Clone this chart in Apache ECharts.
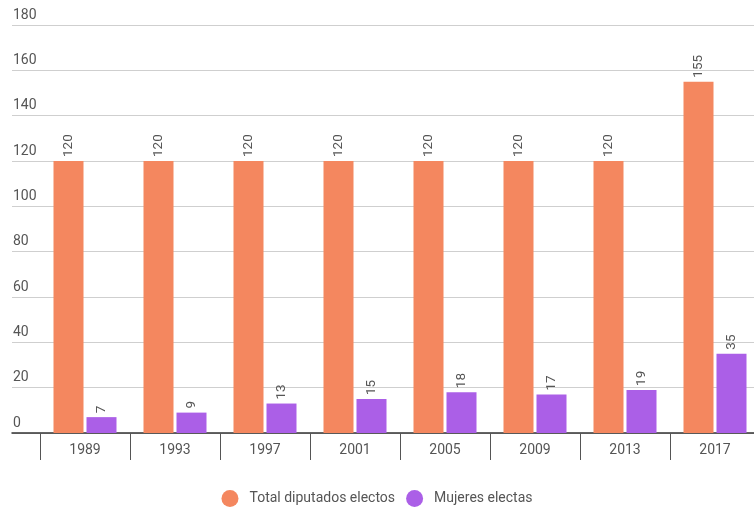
<!DOCTYPE html>
<html>
<head>
<meta charset="utf-8">
<script src="https://cdn.jsdelivr.net/npm/echarts@6/dist/echarts.min.js"></script>
<style>
  html, body { margin: 0; padding: 0; background: #fff; }
  #chart { width: 754px; height: 517px; }
</style>
</head>
<body>
<div id="chart"></div>
<script>
var years = ["1989", "1993", "1997", "2001", "2005", "2009", "2013", "2017"];
var totalDiputados = [120, 120, 120, 120, 120, 120, 120, 155];
var mujeresElectas = [7, 9, 13, 15, 18, 17, 19, 35];
var yTicks = [0, 20, 40, 60, 80, 100, 120, 140, 160, 180];

var orange = "#f4875f";
var purple = "#ab5fe7";

var labelStyle = {
    show: true,
    position: "top",
    rotate: 90,
    align: "left",
    verticalAlign: "middle",
    distance: 4,
    color: "#555",
    fontSize: 13.5,
    fontFamily: "Roboto"
};

var chart = echarts.init(document.getElementById("chart"));

chart.setOption({
    animation: false,
    textStyle: { fontFamily: "Roboto" },
    legend: {
        bottom: 5,
        left: "center",
        icon: "circle",
        itemWidth: 17,
        itemHeight: 17,
        itemGap: 11,
        textStyle: { color: "#555", fontSize: 14, fontFamily: "Roboto", padding: [0, 0, 0, 6] },
        data: ["Total diputados electos", "Mujeres electas"]
    },
    grid: [
        { left: 12, right: 0, top: 25, bottom: 84, outerBoundsMode: "none" },
        { left: 40, width: 720, top: 25, bottom: 84, outerBoundsMode: "none" }
    ],
    xAxis: [
        {
            gridIndex: 0,
            type: "value",
            min: 0, max: 1,
            axisLine: { show: true, onZero: false, lineStyle: { color: "#333", width: 1.5 } },
            axisTick: { show: false },
            axisLabel: { show: false },
            splitLine: { show: false }
        },
        {
            gridIndex: 1,
            type: "category",
            data: years,
            axisLine: { show: false },
            axisTick: { show: true, length: 27, inside: false, lineStyle: { color: "#555" } },
            axisLabel: { color: "#555", fontSize: 14, margin: 10 }
        }
    ],
    yAxis: [
        {
            gridIndex: 0,
            type: "value",
            min: 0, max: 180, interval: 20,
            axisLine: { show: false },
            axisTick: { show: false },
            axisLabel: {
                inside: true,
                margin: 1,
                verticalAlign: "bottom",
                padding: [0, 0, 3, 0],
                color: "#555",
                fontSize: 14,
                formatter: function (v) { return yTicks.indexOf(v) >= 0 ? String(v) : ""; }
            },
            splitLine: { show: true, lineStyle: { color: "#cfcfcf", width: 1 } }
        },
        {
            gridIndex: 1,
            type: "value",
            min: 0, max: 180, interval: 20,
            show: false
        }
    ],
    series: [
        {
            name: "Total diputados electos",
            type: "bar",
            xAxisIndex: 1, yAxisIndex: 1,
            data: totalDiputados,
            barWidth: 30,
            barGap: "10%",
            itemStyle: { color: orange },
            label: labelStyle
        },
        {
            name: "Mujeres electas",
            type: "bar",
            xAxisIndex: 1, yAxisIndex: 1,
            data: mujeresElectas,
            barWidth: 30,
            barGap: "10%",
            itemStyle: { color: purple },
            label: labelStyle
        }
    ]
});
</script>
</body>
</html>
